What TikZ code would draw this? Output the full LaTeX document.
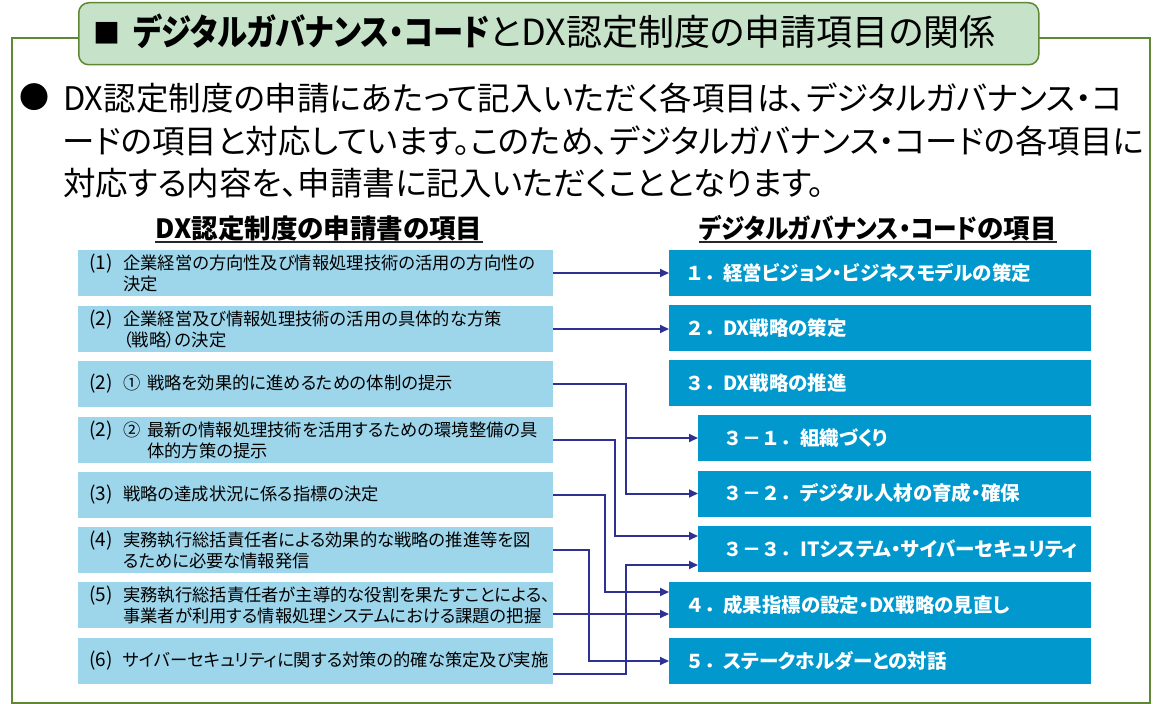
\documentclass[tikz,border=0pt]{standalone}
\usepackage{fontspec}
\setmainfont{Noto Sans CJK JP}
\newfontfamily\jpp[RawFeature=+palt]{Noto Sans CJK JP}
\newfontfamily\jpf{Noto Sans CJK JP}
\usetikzlibrary{arrows.meta,calc}
\definecolor{frameg}{RGB}{94,136,52}
\definecolor{titlefill}{RGB}{198,227,201}
\definecolor{lfill}{RGB}{157,213,235}
\definecolor{rfill}{RGB}{0,152,205}
\definecolor{linec}{RGB}{46,49,146}
\newcommand{\lab}[1]{\makebox[34bp][l]{\fontsize{19bp}{21bp}\selectfont #1}}
\newcommand{\circn}[1]{\makebox[24bp][l]{#1}}
\newcommand{\rnum}[1]{\makebox[38bp][l]{\jpf\fontsize{19bp}{22bp}\selectfont #1}}
\newcommand{\rsub}[1]{\makebox[77bp][l]{\jpf\fontsize{19bp}{22bp}\selectfont #1}}
\begin{document}
\begin{tikzpicture}[x=1bp,y=-1bp,
  lbox/.style={fill=lfill, draw=none, minimum height=46bp, inner xsep=11bp, inner ysep=0pt,
    text width=453bp, align=left, anchor=west, font=\jpp\fontsize{17.3bp}{21bp}\selectfont},
  rbox/.style={fill=rfill, draw=none, minimum height=46bp, inner xsep=16bp, inner ysep=0pt,
    text width=390bp, align=left, anchor=west, text=white, font=\jpp\fontsize{19.5bp}{22bp}\selectfont\bfseries},
  rsubbox/.style={rbox, inner xsep=25bp, text width=343bp},
  head/.style={inner sep=0pt, anchor=base, font=\jpp\fontsize{26.5bp}{30bp}\selectfont\bfseries},
  uline/.style={draw=black!85, line width=2bp},
  body/.style={inner sep=0pt, anchor=base west, font=\jpp\fontsize{32.5bp}{40bp}\selectfont},
  conn/.style={draw=linec, line width=2bp, -{Triangle[length=9bp,width=8bp]}},
]
\useasboundingbox (0,0) rectangle (1162,704);
% outer frame
\draw[frameg, line width=1.5bp] (12,38) rectangle (1150,703);
% title
\node[draw=frameg, fill=titlefill, line width=1.5bp, rounded corners=10bp,
      minimum width=960bp, minimum height=62bp, anchor=north west] (tbox) at (78,2) {};
\node[inner sep=0pt, anchor=base west, font=\jpp\fontsize{36bp}{40bp}\selectfont] (ttext) at (93,46)
  {\makebox[40bp][l]{\raisebox{2bp}{\fontsize{27bp}{27bp}\selectfont ■}}\scalebox{0.84}[1]{\textbf{デジタルガバナンス・コード}}とDX認定制度の申請項目の関係};
% bullet text
\node[inner sep=0pt, font=\fontsize{30bp}{30bp}\selectfont] (bul) at (34,97) {●};
\node[body] (b1) at (63,111) {DX認定制度の申請にあたって記入いただく各項目は、デジタルガバナンス・コ};
\node[body] (b2) at (63,154) {ードの項目と対応しています。このため、デジタルガバナンス・コードの各項目に};
\node[body] (b3) at (63,196) {対応する内容を、申請書に記入いただくこととなります。};
% headers
\node[head] (hl) at (319,238) {DX認定制度の申請書の項目};
\node[head] (hr) at (878,238) {\scalebox{0.89}[1]{デジタルガバナンス・コード}の項目};
\draw[uline] ([yshift=-4bp]hl.base west) -- ([yshift=-4bp]hl.base east);
\draw[uline] ([yshift=-4bp]hr.base west) -- ([yshift=-4bp]hr.base east);
% left boxes
\node[lbox] (L1) at (78,273) {\lab{(1)}企業経営の方向性及び情報処理技術の活用の方向性の\\\hspace*{34bp}決定};
\node[lbox] (L2) at (78,329) {\lab{(2)}企業経営及び情報処理技術の活用の具体的な方策\\\hspace*{34bp}（戦略）の決定};
\node[lbox] (L3) at (78,384) {\lab{(2)}\circn{①}戦略を効果的に進めるための体制の提示};
\node[lbox] (L4) at (78,439.5) {\lab{(2)}\circn{②}最新の情報処理技術を活用するための環境整備の具\\\hspace*{58bp}体的方策の提示};
\node[lbox] (L5) at (78,495) {\lab{(3)}戦略の達成状況に係る指標の決定};
\node[lbox] (L6) at (78,550) {\lab{(4)}実務執行総括責任者による効果的な戦略の推進等を図\\\hspace*{34bp}るために必要な情報発信};
\node[lbox] (L7) at (78,605) {\lab{(5)}実務執行総括責任者が主導的な役割を果たすことによる、\\\hspace*{34bp}事業者が利用する情報処理システムにおける課題の把握};
\node[lbox] (L8) at (78,661) {\lab{(6)}サイバーセキュリティに関する対策の的確な策定及び実施};
% right boxes
\node[rbox] (R1) at (669,273) {\rnum{１．}経営ビジョン・ビジネスモデルの策定};
\node[rbox] (R2) at (669,328) {\rnum{２．}DX戦略の策定};
\node[rbox] (R3) at (669,383) {\rnum{３．}DX戦略の推進};
\node[rsubbox] (R31) at (698,438) {\rsub{３－１．}組織づくり};
\node[rsubbox] (R32) at (698,493.5) {\rsub{３－２．}デジタル人材の育成・確保};
\node[rsubbox] (R33) at (698,549) {\rsub{３－３．}ITシステム・サイバーセキュリティ};
\node[rbox] (R4) at (669,605) {\rnum{４．}成果指標の設定・DX戦略の見直し};
\node[rbox] (R5) at (669,661) {\rnum{５．}ステークホルダーとの対話};
% helper coordinates
\coordinate (xa) at (626,0);
\coordinate (xb) at (615,0);
\coordinate (xc) at (605,0);
\coordinate (xd) at (589,0);
\coordinate (R33in1) at ([yshift=13bp]R33.west);
\coordinate (R33in2) at ([yshift=-16bp]R33.west);
\coordinate (R4in1) at ([yshift=13bp]R4.west);
\coordinate (R4in2) at ([yshift=-9bp]R4.west);
\coordinate (L7out) at ([yshift=-9bp]L7.east);
\coordinate (L8out) at ([yshift=-13bp]L8.east);
% connectors
\draw[conn] (L1.east) -- (R1.west);
\draw[conn] (L2.east) -- (L2.east -| R2.west);
\draw[conn] (L3.east) -- (L3.east -| xa) |- (R31.west);
\draw[conn] (L3.east -| xa) |- (R32.west);
\draw[conn] (L4.east) -- (L4.east -| xb) |- (R33in1);
\draw[conn] (L5.east) -- (L5.east -| xc) |- (R4in1);
\draw[conn] (L6.east) -- (L6.east -| xd) |- (R5.west);
\draw[conn] (L7out) -- (R4in2);
\draw[conn] (L8out) -- (L8out -| xa) |- (R33in2);
\end{tikzpicture}
\end{document}
